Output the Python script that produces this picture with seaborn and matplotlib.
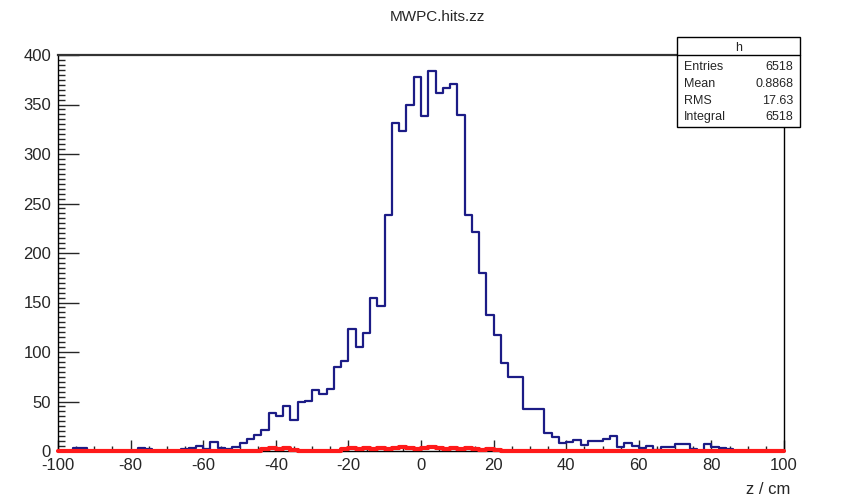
import numpy as np
import pandas as pd
import matplotlib
matplotlib.use("Agg")
import matplotlib.pyplot as plt
import seaborn as sns

# ---- data ----
bin_edges = list(range(-100, 101, 2))
blue_counts = [
    0, 0, 3, 3, 0, 0, 0, 0, 0, 0,
    0, 3, 2, 0, 0, 0, 0, 2, 3, 5,
    2, 9, 3, 2, 4, 8, 12, 16, 21, 38,
    35, 45, 31, 50, 51, 62, 58, 63, 85, 91,
    123, 105, 119, 155, 146, 238, 331, 323, 350, 378,
    338, 384, 362, 367, 371, 339, 238, 221, 180, 137,
    117, 89, 75, 75, 42, 42, 42, 18, 14, 8,
    9, 11, 6, 10, 10, 12, 15, 4, 8, 5,
    3, 5, 1, 4, 4, 7, 7, 2, 0, 7,
    4, 3, 2, 0, 0, 0, 0, 0, 0, 0,
]
red_counts = [
    0, 0, 0, 0, 0, 0, 0, 0, 0, 0,
    0, 0, 0, 0, 0, 0, 0, 0, 0, 0,
    0, 0, 0, 0, 0, 0, 0, 0, 2, 3,
    2, 3, 1, 0, 0, 0, 0, 0, 0, 2,
    3, 2, 3, 2, 3, 2, 3, 4, 3, 2,
    3, 4, 3, 2, 3, 2, 3, 2, 1, 2,
    1, 0, 0, 0, 0, 0, 0, 0, 0, 0,
    0, 0, 0, 0, 0, 0, 0, 0, 0, 0,
    0, 0, 0, 0, 0, 0, 0, 0, 0, 0,
    0, 0, 0, 0, 0, 0, 0, 0, 0, 0,
]
stat_names = ["Entries", "Mean", "RMS", "Integral"]
stat_values = ["6518", "0.8868", "17.63", "6518"]
title = "MWPC.hits.zz"
xlabel = "z / cm"
hist_name = "h"

centers = [(bin_edges[i] + bin_edges[i + 1]) / 2 for i in range(len(bin_edges) - 1)]
df = pd.DataFrame({"z": centers, "blue": blue_counts, "red": red_counts})

# ---- figure ----
sns.set_style("white")
plt.rcParams["font.family"] = ["Liberation Sans", "DejaVu Sans"]
plt.rcParams["axes.unicode_minus"] = False

W, H = 864, 499
fig = plt.figure(figsize=(W / 100, H / 100), dpi=100)
ax = fig.add_axes([58 / W, 1 - 451 / H, (784 - 58) / W, (451 - 55) / H])

sns.histplot(data=df, x="z", weights="blue", bins=bin_edges, element="step",
             fill=False, color="#1c1c86", linewidth=1.6, ax=ax)
n_before = len(ax.lines)
sns.histplot(data=df, x="z", weights="red", bins=bin_edges, element="step",
             fill=False, color="#ff1a1a", linewidth=3.0, ax=ax)
for ln in ax.lines[n_before:]:
    ln.set_clip_on(False)
    ln.set_zorder(5)

ax.set_xlim(-100, 100)
ax.set_ylim(0, 400)
ax.set_xlabel("")
ax.set_ylabel("")

ax.set_xticks(np.arange(-100, 101, 20))
ax.set_xticks(np.arange(-100, 101, 5), minor=True)
ax.set_yticks(np.arange(0, 401, 50))
ax.set_yticks(np.arange(0, 401, 5), minor=True)

ax.tick_params(axis="x", which="major", direction="in", length=8, width=1,
               labelsize=12, pad=5, top=False, bottom=True)
ax.tick_params(axis="x", which="minor", direction="in", length=3.5, width=1,
               top=False, bottom=True)
ax.tick_params(axis="y", which="major", direction="in", length=15, width=1,
               labelsize=12, pad=5, right=False, left=True)
ax.tick_params(axis="y", which="minor", direction="in", length=5, width=1,
               right=False, left=True)

for s in ax.spines.values():
    s.set_visible(True)
    s.set_color("black")
    s.set_linewidth(1.0)
ax.spines["top"].set_linewidth(1.6)
ax.spines["top"].set_color("#333333")

fig.text(437 / W, 1 - 17 / H, title, ha="center", va="center", fontsize=11)
fig.text(790 / W, 1 - 490 / H, xlabel, ha="right", va="center", fontsize=12)

# ---- stats box ----
bx0, bx1 = 677 / W, 800 / W
by_top, by_sep, by_bot = 1 - 37 / H, 1 - 55 / H, 1 - 127 / H
rect = plt.Rectangle((bx0, by_bot), bx1 - bx0, by_top - by_bot, transform=fig.transFigure,
                     facecolor="white", edgecolor="black", linewidth=1.0, zorder=10)
fig.add_artist(rect)
fig.add_artist(plt.Line2D([bx0, bx1], [by_sep, by_sep], transform=fig.transFigure,
                          color="black", linewidth=1.0, zorder=11))
fig.text((bx0 + bx1) / 2, 1 - 48 / H, hist_name, ha="center", va="center",
         fontsize=9, zorder=12)
rows_y = [67, 84, 101, 117]
for name, val, yy in zip(stat_names, stat_values, rows_y):
    fig.text(684 / W, 1 - yy / H, name, ha="left", va="center", fontsize=9, zorder=12)
    fig.text(793 / W, 1 - yy / H, val, ha="right", va="center", fontsize=9, zorder=12)

fig.savefig("out.png", dpi=100)
